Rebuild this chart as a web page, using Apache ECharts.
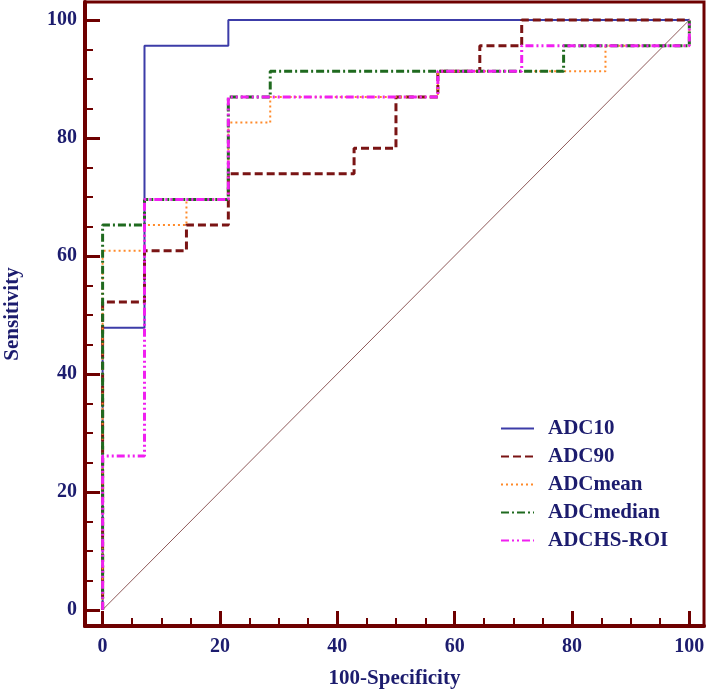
<!DOCTYPE html>
<html>
<head>
<meta charset="utf-8">
<script src="https://cdn.jsdelivr.net/npm/echarts@6/dist/echarts.min.js"></script>
<style>
  html, body { margin: 0; padding: 0; background: #fff; }
  #chart { width: 708px; height: 690px; }
</style>
</head>
<body>
<div id="chart"></div>
<script>
// ROC corner points (100-Specificity, Sensitivity), drawn as steps
const adc10X = [0, 0, 7.14, 21.43, 100];
const adc10Y = [0, 47.83, 95.65, 100, 100];

const adc90X = [0, 0, 7.14, 14.29, 21.43, 42.86, 50, 57.14, 64.29, 71.43, 100];
const adc90Y = [0, 52.17, 60.87, 65.22, 73.91, 78.26, 86.96, 91.30, 95.65, 100, 100];

const meanX = [0, 0, 7.14, 14.29, 21.43, 28.57, 57.14, 85.71, 100];
const meanY = [0, 60.87, 65.22, 69.57, 82.61, 86.96, 91.30, 95.65, 100];

const medianX = [0, 0, 7.14, 21.43, 28.57, 78.57, 100];
const medianY = [0, 65.22, 69.57, 86.96, 91.30, 95.65, 100];

const roiX = [0, 0, 7.14, 21.43, 57.14, 71.43, 100];
const roiY = [0, 26.09, 69.57, 86.96, 91.30, 95.65, 100];

const refX = [0, 100];
const refY = [0, 100];

const majorTicks = [0, 20, 40, 60, 80, 100];
const minorTicks = [5, 10, 15, 25, 30, 35, 45, 50, 55, 65, 70, 75, 85, 90, 95];

const names = ['ADC10', 'ADC90', 'ADCmean', 'ADCmedian', 'ADCHS-ROI'];

const axisColor = '#6e0000';
const textColor = '#1c1c6e';
const font = 'Liberation Serif';

function pairs(xs, ys) {
  return xs.map((x, i) => [x, ys[i]]);
}

const chart = echarts.init(document.getElementById('chart'));

const gridBox = { left: 85, right: 4, top: 2, bottom: 64, outerBoundsMode: 'none', containLabel: false };
const xRange = { min: -3, max: 102.5 };
const yRange = { min: -2.75, max: 103.05 };

function majorAxis(extra) {
  return Object.assign({
    type: 'value',
    axisLine: { show: true, onZero: false, lineStyle: { color: axisColor, width: 4 } },
    axisTick: { show: true, inside: true, length: 15, customValues: majorTicks, lineStyle: { color: axisColor, width: 3 } },
    axisLabel: {
      customValues: majorTicks,
      color: textColor, fontFamily: font, fontWeight: 'bold', fontSize: 20
    },
    splitLine: { show: false },
    nameTextStyle: { color: textColor, fontFamily: font, fontWeight: 'bold', fontSize: 21 }
  }, extra);
}

// second, label-less axis pair that only carries the short minor ticks
function minorAxis(extra) {
  return Object.assign({
    type: 'value',
    gridIndex: 1,
    axisLine: { show: false, onZero: false },
    axisTick: { show: true, inside: true, length: 8, customValues: minorTicks, lineStyle: { color: axisColor, width: 2 } },
    axisLabel: { show: false },
    splitLine: { show: false }
  }, extra);
}

function stepLine(name, xs, ys, color, width, dash) {
  return {
    name: name,
    type: 'line',
    step: 'end',
    symbol: 'none',
    data: pairs(xs, ys),
    lineStyle: { color: color, width: width, type: dash },
    itemStyle: { color: color },
    animation: false
  };
}

chart.setOption({
  backgroundColor: '#fff',
  animation: false,
  grid: [
    Object.assign({ show: true, borderColor: axisColor, borderWidth: 3, backgroundColor: '#fff' }, gridBox),
    Object.assign({}, gridBox)
  ],
  xAxis: [
    majorAxis(Object.assign({
      name: '100-Specificity',
      nameLocation: 'middle',
      nameGap: 42,
      axisLabel: {
        customValues: majorTicks, margin: 11,
        color: textColor, fontFamily: font, fontWeight: 'bold', fontSize: 20
      }
    }, xRange)),
    minorAxis(Object.assign({}, xRange))
  ],
  yAxis: [
    majorAxis(Object.assign({
      name: 'Sensitivity',
      nameLocation: 'middle',
      nameGap: 62,
      axisLabel: {
        customValues: majorTicks, margin: 8,
        color: textColor, fontFamily: font, fontWeight: 'bold', fontSize: 20
      }
    }, yRange)),
    minorAxis(Object.assign({}, yRange))
  ],
  legend: {
    data: names,
    orient: 'vertical',
    left: 495,
    top: 413,
    itemWidth: 33,
    itemHeight: 14,
    itemGap: 7,
    itemStyle: { opacity: 0 },
    textStyle: {
      color: textColor, fontFamily: font, fontWeight: 'bold', fontSize: 21,
      lineHeight: 20, padding: [0, 0, 0, 9]
    }
  },
  series: [
    {
      name: 'ref',
      type: 'line',
      symbol: 'none',
      data: pairs(refX, refY),
      lineStyle: { color: '#8f5a5a', width: 1 },
      silent: true
    },
    stepLine('ADC10', adc10X, adc10Y, '#3c3ca8', 2, 'solid'),
    stepLine('ADC90', adc90X, adc90Y, '#7a1414', 3, [8, 4]),
    stepLine('ADCmean', meanX, meanY, '#ff8a2a', 2, [2, 3]),
    stepLine('ADCmedian', medianX, medianY, '#1f6a1f', 3, [8, 3, 2, 3]),
    stepLine('ADCHS-ROI', roiX, roiY, '#f020f0', 3, [8, 3, 2, 3, 2, 3])
  ]
});
</script>
</body>
</html>
